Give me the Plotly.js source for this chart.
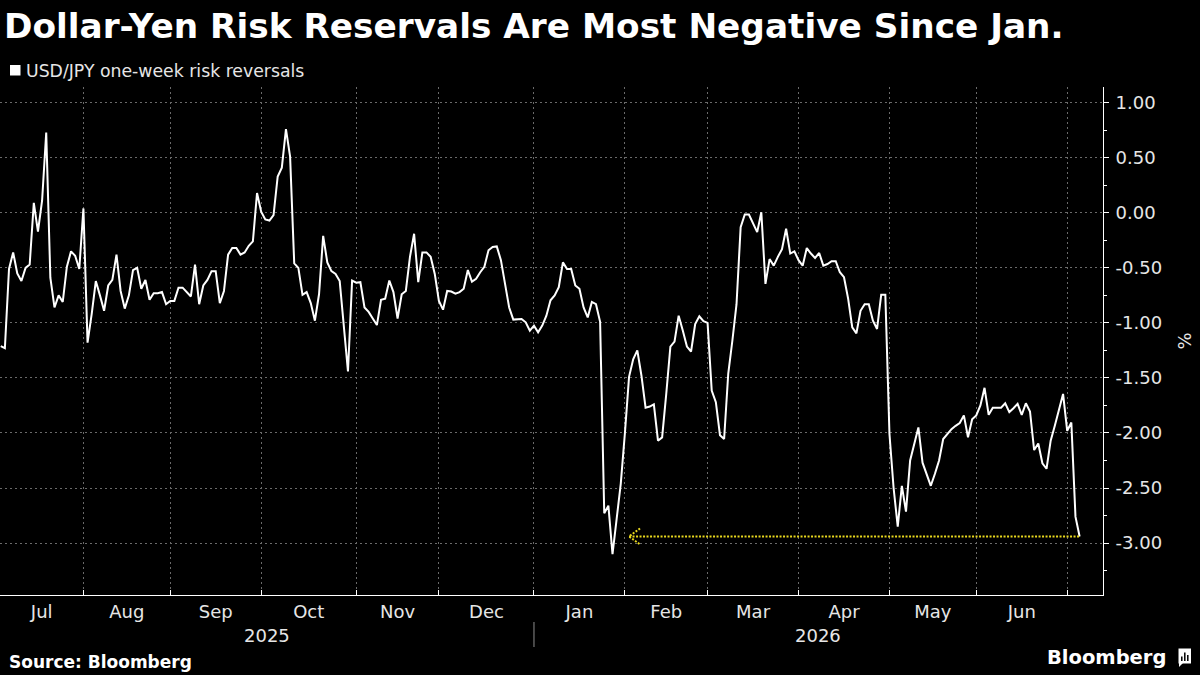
<!DOCTYPE html>
<html>
<head>
<meta charset="utf-8">
<script src="https://cdn.plot.ly/plotly-3.0.1.min.js"></script>
<style>
  html, body { margin: 0; padding: 0; background: #000; }
  #chart { width: 1200px; height: 675px; }
</style>
</head>
<body>
<div id="chart"></div>
<script>
// USD/JPY one-week 25-delta risk reversals, daily (weekdays), in %
const dates = [
  '2025-07-04','2025-07-07','2025-07-08','2025-07-09','2025-07-10','2025-07-11','2025-07-14','2025-07-15','2025-07-16','2025-07-17',
  '2025-07-18','2025-07-21','2025-07-22','2025-07-23','2025-07-24','2025-07-25','2025-07-28','2025-07-29','2025-07-30','2025-07-31',
  '2025-08-01','2025-08-04','2025-08-05','2025-08-06','2025-08-07','2025-08-08','2025-08-11','2025-08-12','2025-08-13','2025-08-14',
  '2025-08-15','2025-08-18','2025-08-19','2025-08-20','2025-08-21','2025-08-22','2025-08-25','2025-08-26','2025-08-27','2025-08-28','2025-08-29',
  '2025-09-01','2025-09-02','2025-09-03','2025-09-04','2025-09-05','2025-09-08','2025-09-09','2025-09-10','2025-09-11','2025-09-12',
  '2025-09-15','2025-09-16','2025-09-17','2025-09-18','2025-09-19','2025-09-22','2025-09-23','2025-09-24','2025-09-25','2025-09-26','2025-09-29','2025-09-30',
  '2025-10-01','2025-10-02','2025-10-03','2025-10-06','2025-10-07','2025-10-08','2025-10-09','2025-10-10','2025-10-13','2025-10-14',
  '2025-10-15','2025-10-16','2025-10-17','2025-10-20','2025-10-21','2025-10-22','2025-10-23','2025-10-24','2025-10-27','2025-10-28','2025-10-30','2025-10-31',
  '2025-11-03','2025-11-04','2025-11-05','2025-11-06','2025-11-07','2025-11-10','2025-11-11','2025-11-12','2025-11-13','2025-11-14',
  '2025-11-17','2025-11-18','2025-11-19','2025-11-20','2025-11-21','2025-11-24','2025-11-25','2025-11-26','2025-11-27','2025-11-28',
  '2025-12-01','2025-12-02','2025-12-03','2025-12-04','2025-12-05','2025-12-08','2025-12-09','2025-12-10','2025-12-11','2025-12-12',
  '2025-12-15','2025-12-16','2025-12-17','2025-12-18','2025-12-19','2025-12-22','2025-12-23','2025-12-24','2025-12-25','2025-12-26','2025-12-29','2025-12-30','2025-12-31',
  '2026-01-01','2026-01-02','2026-01-05','2026-01-06','2026-01-07','2026-01-08','2026-01-09','2026-01-12','2026-01-13','2026-01-14','2026-01-15',
  '2026-01-16','2026-01-19','2026-01-20','2026-01-21','2026-01-22','2026-01-23','2026-01-26','2026-01-27','2026-01-28','2026-01-29','2026-01-30',
  '2026-02-02','2026-02-03','2026-02-04','2026-02-05','2026-02-06','2026-02-09','2026-02-10','2026-02-11','2026-02-12','2026-02-13',
  '2026-02-16','2026-02-17','2026-02-18','2026-02-19','2026-02-20','2026-02-23','2026-02-24','2026-02-25','2026-02-26','2026-02-27',
  '2026-03-02','2026-03-03','2026-03-04','2026-03-05','2026-03-06','2026-03-09','2026-03-10','2026-03-11','2026-03-12','2026-03-13','2026-03-16',
  '2026-03-17','2026-03-18','2026-03-19','2026-03-20','2026-03-23','2026-03-24','2026-03-25','2026-03-26','2026-03-27','2026-03-30','2026-03-31',
  '2026-04-01','2026-04-02','2026-04-03','2026-04-06','2026-04-07','2026-04-08','2026-04-09','2026-04-10','2026-04-13','2026-04-14','2026-04-15',
  '2026-04-16','2026-04-17','2026-04-20','2026-04-21','2026-04-22','2026-04-23','2026-04-24','2026-04-27','2026-04-28','2026-04-29','2026-04-30',
  '2026-05-01','2026-05-04','2026-05-05','2026-05-06','2026-05-07','2026-05-08','2026-05-11','2026-05-12','2026-05-13','2026-05-14','2026-05-15',
  '2026-05-18','2026-05-19','2026-05-20','2026-05-21','2026-05-22','2026-05-25','2026-05-26','2026-05-27','2026-05-28','2026-05-29',
  '2026-06-01','2026-06-02','2026-06-03','2026-06-04','2026-06-05','2026-06-08','2026-06-09','2026-06-10','2026-06-11','2026-06-12','2026-06-15',
  '2026-06-16','2026-06-17','2026-06-18','2026-06-19','2026-06-22','2026-06-23','2026-06-24','2026-06-25','2026-06-26','2026-06-29','2026-06-30',
  '2026-07-01','2026-07-02','2026-07-03','2026-07-06'
];

const riskReversal = [
  -1.21,-1.23,-0.51,-0.36,-0.55,-0.62,-0.50,-0.47,0.09,-0.17,
  0.11,0.73,-0.59,-0.86,-0.75,-0.81,-0.49,-0.35,-0.39,-0.51,
  0.04,-1.18,-0.92,-0.62,-0.75,-0.89,-0.66,-0.61,-0.38,-0.71,
  -0.87,-0.75,-0.52,-0.50,-0.69,-0.61,-0.79,-0.73,-0.73,-0.72,-0.83,
  -0.80,-0.80,-0.68,-0.68,-0.72,-0.76,-0.47,-0.83,-0.66,-0.61,
  -0.53,-0.53,-0.82,-0.71,-0.38,-0.32,-0.32,-0.38,-0.36,-0.30,-0.26,0.18,
  0.01,-0.06,-0.07,-0.02,0.33,0.41,0.76,0.51,-0.46,-0.50,
  -0.745,-0.72,-0.82,-0.98,-0.74,-0.21,-0.45,-0.53,-0.555,-0.62,-1.44,-0.615,
  -0.635,-0.63,-0.86,-0.90,-0.96,-1.02,-0.79,-0.78,-0.615,-0.72,
  -0.96,-0.74,-0.71,-0.40,-0.19,-0.63,-0.36,-0.36,-0.40,-0.555,
  -0.80,-0.88,-0.71,-0.715,-0.735,-0.72,-0.69,-0.52,-0.625,-0.60,
  -0.54,-0.49,-0.34,-0.31,-0.305,-0.43,-0.645,-0.86,-0.97,-0.97,-0.965,-0.995,-1.07,
  -1.025,-1.085,-1.025,-0.935,-0.795,-0.75,-0.675,-0.45,-0.51,-0.51,-0.66,
  -0.69,-0.86,-0.95,-0.81,-0.83,-0.99,-2.73,-2.66,-3.10,-2.78,-2.46,
  -2.00,-1.49,-1.33,-1.25,-1.48,-1.77,-1.76,-1.74,-2.07,-2.04,
  -1.645,-1.215,-1.17,-0.935,-1.07,-1.215,-1.26,-1.01,-0.94,-0.985,
  -1.00,-1.615,-1.72,-2.02,-2.055,-1.46,-1.16,-0.83,-0.13,-0.015,-0.015,
  -0.09,-0.175,0.005,-0.645,-0.42,-0.48,-0.40,-0.33,-0.145,-0.37,-0.35,
  -0.43,-0.48,-0.32,-0.37,-0.41,-0.365,-0.48,-0.465,-0.44,-0.44,-0.54,
  -0.585,-0.78,-1.04,-1.095,-0.89,-0.83,-0.83,-0.98,-1.055,-0.745,-0.745,
  -2.01,-2.50,-2.85,-2.48,-2.715,-2.25,-2.10,-1.95,-2.27,-2.37,-2.48,
  -2.37,-2.25,-2.055,-2.01,-1.965,-1.935,-1.91,-1.84,-2.04,-1.875,
  -1.84,-1.75,-1.59,-1.835,-1.77,-1.77,-1.77,-1.73,-1.81,-1.775,-1.735,
  -1.835,-1.73,-1.805,-2.155,-2.095,-2.275,-2.325,-2.07,-1.935,-1.79,-1.645,
  -1.98,-1.905,-2.76,-2.94
];

// First trading day of each month (tick marks and vertical grid)
const monthStarts = ['2025-07-01','2025-08-01','2025-09-01','2025-10-01','2025-11-03','2025-12-01',
                     '2026-01-01','2026-02-02','2026-03-02','2026-04-01','2026-05-01','2026-06-01','2026-07-01'];
const monthNames = ['Jul','Aug','Sep','Oct','Nov','Dec','Jan','Feb','Mar','Apr','May','Jun'];
const years = ['2025','2026'];
const yearStart2026 = '2026-01-01';

const yTickVals = [1, 0.5, 0, -0.5, -1, -1.5, -2, -2.5, -3];
const yTickText = ['1.00','0.50','0.00','-0.50','-1.00','-1.50','-2.00','-2.50','-3.00'];

// Arrow from the latest reading back to the January low
const arrowTip = '2026-02-03';

// ---------- layout helpers ----------
const W = 1200, H = 675;
const M = { l: 0, r: 97, t: 87, b: 80 };
const PW = W - M.l - M.r, PH = H - M.t - M.b;
const px = x => (x - M.l) / PW;
const py = y => (H - M.b - y) / PH;

const X_START = '2025-07-03 19:40';
const X_END = '2026-07-13 15:50';

// weekday-index arithmetic so label centres sit mid-period on the break-compressed axis
const DAY = 864e5, MON0 = Date.UTC(1970, 0, 5);
function toMs(s) {
  const [d, t] = s.split(' ');
  const [Y, Mo, D] = d.split('-').map(Number);
  let ms = Date.UTC(Y, Mo - 1, D);
  if (t) { const [h, m] = t.split(':').map(Number); ms += (h * 60 + (m || 0)) * 60000; }
  return ms;
}
function toIdx(ms) { const d = (ms - MON0) / DAY; const w = Math.floor(d / 7); const r = d - 7 * w; return 5 * w + Math.min(r, 5); }
function fromIdx(i) { const w = Math.floor(i / 5); const r = i - 5 * w; return MON0 + (7 * w + r) * DAY; }
function fmt(ms) { return new Date(ms).toISOString().replace('T', ' ').replace('Z', ''); }
function midTrading(a, b) { return fmt(fromIdx((toIdx(toMs(a)) + toIdx(toMs(b))) / 2)); }

const labelPos = monthNames.map((_, i) => midTrading(i === 0 ? X_START : monthStarts[i], monthStarts[i + 1]));
const yearPos = [midTrading(X_START, yearStart2026), midTrading(yearStart2026, X_END)];

const FONT = 'DejaVu Sans, Verdana, sans-serif';
const TXT = '#e6e6e6';
const GRID = '#6a6a6a';
const YELLOW = '#e8d71e';

const last = dates.length - 1;

const trace = {
  type: 'scatter',
  mode: 'lines',
  x: dates,
  y: riskReversal,
  line: { color: '#ffffff', width: 2 },
  hoverinfo: 'skip',
  showlegend: false
};

const shapes = [
  // legend swatch
  { type: 'rect', xref: 'paper', yref: 'paper', x0: px(10), x1: px(20.5), y0: py(75.5), y1: py(65),
    fillcolor: '#ffffff', line: { width: 0 } },
  // year divider under the axis
  { type: 'line', xref: 'x', yref: 'paper', x0: yearStart2026, x1: yearStart2026, y0: py(622), y1: py(647),
    line: { color: '#8c8c8c', width: 1 } },
  // dotted arrow shaft
  { type: 'line', xref: 'x', yref: 'y', x0: arrowTip, x1: dates[last], y0: riskReversal[last], y1: riskReversal[last],
    line: { color: YELLOW, width: 2, dash: '2px,1.5px' } },
  // dotted arrow head
  { type: 'path', xref: 'x', yref: 'y', xsizemode: 'pixel', ysizemode: 'pixel',
    xanchor: arrowTip, yanchor: riskReversal[last], path: 'M 11 8 L 0 0 L 11 -8',
    line: { color: YELLOW, width: 2, dash: '2px,1.5px' } },
  // Bloomberg mark
  { type: 'rect', xref: 'paper', yref: 'paper', x0: px(1178.5), x1: px(1191), y0: py(663.5), y1: py(648.5),
    fillcolor: '#ffffff', line: { width: 0 } },
  { type: 'path', xref: 'paper', yref: 'paper',
    path: `M ${px(1179)} ${py(663)} L ${px(1179)} ${py(667)} L ${px(1183)} ${py(663)} Z`,
    fillcolor: '#ffffff', line: { width: 0 } },
  { type: 'line', xref: 'paper', yref: 'paper', x0: px(1181.8), x1: px(1181.8), y0: py(661), y1: py(656.5),
    line: { color: '#000', width: 1.5 } },
  { type: 'line', xref: 'paper', yref: 'paper', x0: px(1184.8), x1: px(1184.8), y0: py(661), y1: py(652.5),
    line: { color: '#000', width: 1.5 } },
  { type: 'line', xref: 'paper', yref: 'paper', x0: px(1187.8), x1: px(1187.8), y0: py(661), y1: py(655),
    line: { color: '#000', width: 1.5 } }
];

const annotations = [
  { xref: 'paper', yref: 'paper', x: px(24), y: py(70.5), xanchor: 'left', yanchor: 'middle', showarrow: false,
    text: 'USD/JPY one-week risk reversals', font: { family: FONT, size: 17.3, color: TXT } },
  { xref: 'paper', yref: 'paper', x: px(7), y: py(662), xanchor: 'left', yanchor: 'middle', showarrow: false,
    text: 'Source: Bloomberg', font: { family: FONT, size: 17, color: '#ffffff', weight: 'bold' } },
  { xref: 'paper', yref: 'paper', x: px(1168), y: py(657), xanchor: 'right', yanchor: 'middle', showarrow: false,
    text: 'Bloomberg', font: { family: FONT, size: 19.5, color: '#ffffff', weight: 'bold' } }
].concat(years.map((yr, i) => ({
  xref: 'x', yref: 'paper', x: yearPos[i], y: py(635), xanchor: 'center', yanchor: 'middle', showarrow: false,
  text: yr, font: { family: FONT, size: 18, color: TXT }
})));

const layout = {
  width: W, height: H,
  margin: M,
  paper_bgcolor: '#000000',
  plot_bgcolor: '#000000',
  title: {
    text: 'Dollar-Yen Risk Reservals Are Most Negative Since Jan.',
    xref: 'container', yref: 'container', x: 4 / W, y: 1 - 26 / H, xanchor: 'left', yanchor: 'middle',
    font: { family: FONT, size: 34.3, color: '#ffffff', weight: 'bold' }
  },
  xaxis: {
    type: 'date',
    range: [X_START, X_END],
    rangebreaks: [{ bounds: ['sat', 'mon'] }],
    tickmode: 'array',
    tickvals: labelPos,
    ticktext: monthNames,
    ticks: '',
    showgrid: false,
    showline: true, linecolor: '#ffffff', linewidth: 1,
    tickfont: { family: FONT, size: 18, color: TXT },
    minor: {
      tickmode: 'array',
      tickvals: monthStarts.slice(1),
      ticks: 'inside', ticklen: 5, tickcolor: '#ffffff', tickwidth: 1,
      showgrid: true, gridcolor: GRID, gridwidth: 1, griddash: '2px,3px'
    },
    zeroline: false,
    fixedrange: true,
    automargin: false
  },
  yaxis: {
    side: 'right',
    range: [-3.472, 1.143],
    tickmode: 'array',
    tickvals: yTickVals,
    ticktext: yTickText,
    ticks: 'outside', ticklen: 5, tickcolor: '#ffffff', tickwidth: 1,
    ticklabelstandoff: 3,
    showgrid: true, gridcolor: GRID, gridwidth: 1, griddash: '2px,3px',
    minor: { tickmode: 'linear', tick0: 0, dtick: 0.25, ticks: 'outside', ticklen: 3, tickcolor: '#ffffff', showgrid: false },
    showline: true, linecolor: '#ffffff', linewidth: 1,
    zeroline: false,
    tickfont: { family: FONT, size: 18, color: TXT },
    title: { text: '%', standoff: 17, font: { family: FONT, size: 18, color: TXT } },
    fixedrange: true,
    automargin: false
  },
  shapes: shapes,
  annotations: annotations,
  showlegend: false
};

Plotly.newPlot('chart', [trace], layout, { staticPlot: true, displayModeBar: false });
</script>
</body>
</html>
